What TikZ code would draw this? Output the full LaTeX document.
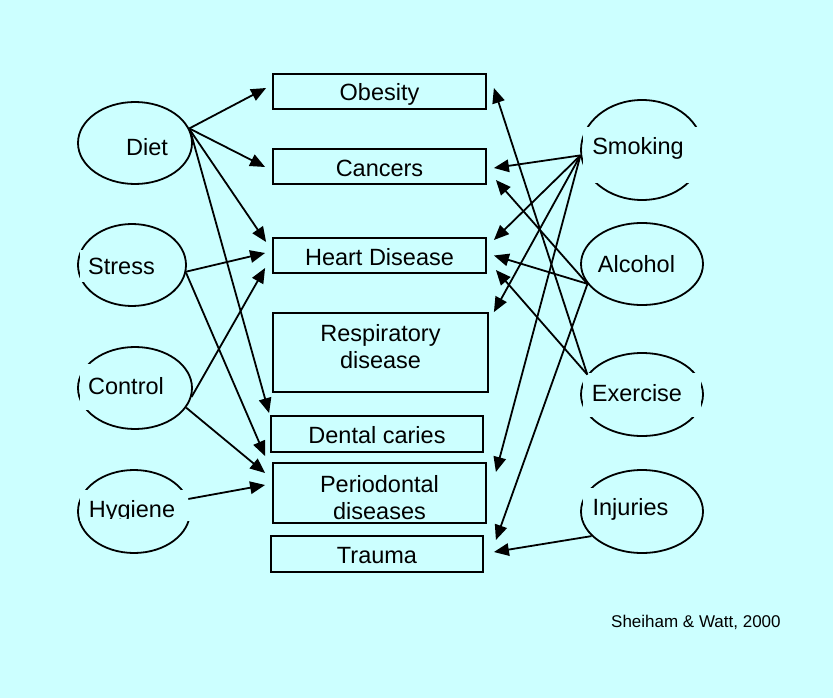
\documentclass[tikz,border=0pt]{standalone}
\usepackage{fontspec}
\setmainfont{Liberation Sans}
\usetikzlibrary{shapes.geometric,arrows.meta}
\definecolor{bgc}{HTML}{CCFFFF}
\begin{document}
\begin{tikzpicture}[x=1pt,y=-1pt,
  ell/.style={draw, ellipse, line width=1.8pt, inner sep=0pt},
  hid/.style={fill=bgc},
  lab/.style={font=\fontsize{23.5}{27}\selectfont, inner sep=0pt, anchor=base},
  box/.style={draw, line width=1.8pt, inner sep=0pt, font=\fontsize{23.5}{27}\selectfont, text height=20pt, text depth=1pt},
  arr/.style={line width=1.8pt, -{Triangle[length=15pt,width=12.5pt]}},
]
\fill[bgc] (0,0) rectangle (833,698);
\useasboundingbox (0,0) rectangle (833,698);

% ellipses (causes)
\node[ell, minimum width=114pt, minimum height=82pt] (diet) at (135,143) {};
\node[ell, minimum width=108pt, minimum height=82pt] (stress) at (132,265) {};
\node[ell, minimum width=114pt, minimum height=82pt] (control) at (135,388) {};
\node[ell, minimum width=112pt, minimum height=83pt] (hygiene) at (134,511.5) {};
\node[ell, minimum width=122pt, minimum height=100pt] (smoking) at (642,150) {};
\node[ell, minimum width=122pt, minimum height=82pt] (alcohol) at (642,264) {};
\node[ell, minimum width=122pt, minimum height=83pt] (exercise) at (642,394.5) {};
\node[ell, minimum width=122pt, minimum height=83pt] (injuries) at (642,511.5) {};

% opaque text areas hiding parts of the outlines
\fill[hid] (80,250) rectangle (170,282);
\fill[hid] (80,364) rectangle (170,410);
\fill[hid] (80,490) rectangle (192,521);
\fill[hid] (583,127) rectangle (705,183);
\fill[hid] (583,373) rectangle (701,417);
\fill[hid] (583,488) rectangle (690,520);

% labels of causes
\node[lab] (dietT) at (147,156) {Diet};
\node[lab] (stressT) at (121.5,274) {Stress};
\node[lab] (controlT) at (126,394) {Control};
\begin{scope}
  \clip (70,480) rectangle (200,518.5);
  \node[lab] (hygieneT) at (132,517) {Hygiene};
\end{scope}
\node[lab] (smokingT) at (638,155) {Smoking};
\node[lab] (alcoholT) at (636.5,272) {Alcohol};
\node[lab] (exerciseT) at (637,401) {Exercise};
\node[lab] (injuriesT) at (630.5,515) {Injuries};

% disease boxes
\node[box, minimum width=213pt, minimum height=35pt] (obesity) at (379.5,91.5) {Obesity};
\node[box, minimum width=213pt, minimum height=35pt] (cancers) at (379.5,166.5) {Cancers};
\node[box, minimum width=213pt, minimum height=35pt] (heart) at (379.5,255.5) {Heart Disease};
\node[box, minimum width=215pt, minimum height=79pt] (resp) at (380.5,352.5) {};
\node[lab, anchor=north, align=center] (respT) at (380.5,324.5) {Respiratory\\disease};
\node[box, minimum width=212pt, minimum height=36pt] (caries) at (377,434) {Dental caries};
\node[box, minimum width=213pt, minimum height=60pt] (perio) at (379.5,493) {};
\node[lab, anchor=north, align=center] (perioT) at (379.5,475) {Periodontal\\diseases};
\node[box, minimum width=212pt, minimum height=36pt] (trauma) at (377,554) {Trauma};

% connectors
\draw[arr] (diet.15) -- ([shift={(-6,-3.5)}]obesity.west);
\draw[arr] (diet.15) -- ([shift={(-7,0.5)}]cancers.west);
\draw[arr] (diet.13) -- ([shift={(-6,-13.5)}]heart.west);
\draw[arr] (diet.13) -- ([shift={(-1,-2)}]caries.north west);
\draw[arr] (stress.-7) -- ([shift={(-7,-2.5)}]heart.west);
\draw[arr] (stress.-8) -- ([shift={(-7,-6)}]perio.north west);
\draw[arr] (control.-9) -- ([shift={(-7,12.5)}]heart.west);
\draw[arr] (control.-21) -- ([shift={(-7,-20)}]perio.west);
\draw[arr] (hygiene.13) -- ([shift={(-7,-8)}]perio.west);
\draw[arr] (smoking.185) -- ([shift={(7,1.5)}]cancers.east);
\draw[arr] (smoking.185) -- ([shift={(7,-15.5)}]heart.east);
\draw[arr] (smoking.185) -- ([shift={(5,0)}]resp.north east);
\draw[arr] (smoking.185) -- ([shift={(9,-21)}]perio.east);
\draw[arr] (alcohol.200) -- ([shift={(9,13.5)}]cancers.east);
\draw[arr] (alcohol.200) -- ([shift={(7,0)}]heart.east);
\draw[arr] (alcohol.200) -- ([shift={(12,-14)}]trauma.east);
\draw[arr] (exercise.160) -- ([shift={(7,-3.5)}]obesity.east);
\draw[arr] (exercise.160) -- ([shift={(9,14.5)}]heart.east);
\draw[arr] (injuries.206) -- ([shift={(10,-2)}]trauma.east);

\node[font=\fontsize{17}{20}\selectfont, inner sep=0pt, anchor=base west] (cite) at (611,627) {Sheiham \& Watt, 2000};
\end{tikzpicture}
\end{document}
